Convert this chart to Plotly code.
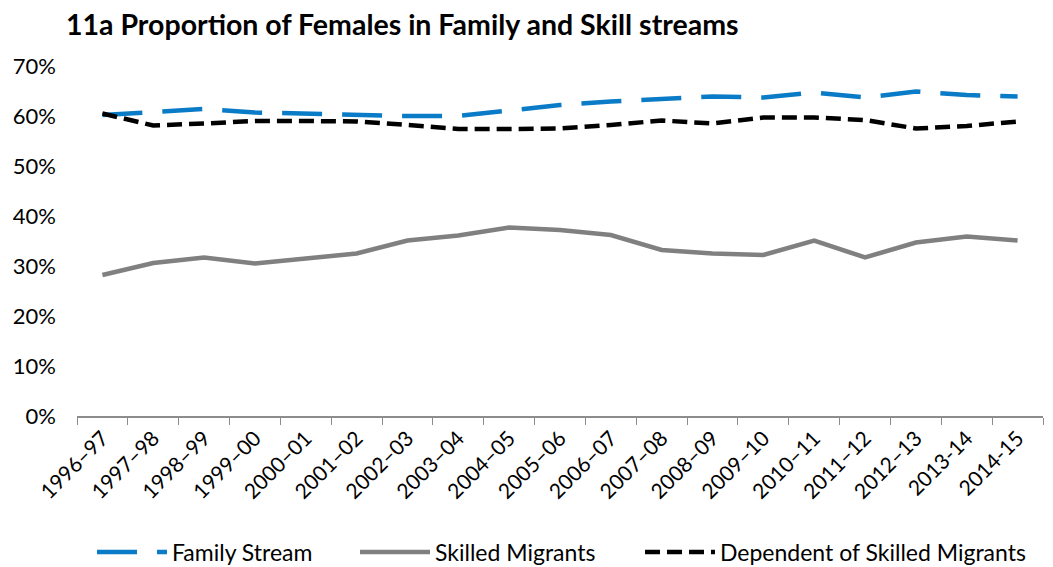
import plotly.graph_objects as go

years = ["1996–97", "1997–98", "1998–99", "1999–00", "2000–01", "2001–02", "2002–03",
         "2003–04", "2004–05", "2005–06", "2006–07", "2007–08", "2008–09", "2009–10",
         "2010–11", "2011–12", "2012–13", "2013-14", "2014-15"]

family_stream = [0.602, 0.608, 0.614, 0.607, 0.604, 0.603, 0.600, 0.600, 0.612, 0.622,
                 0.629, 0.635, 0.639, 0.637, 0.647, 0.637, 0.649, 0.642, 0.639]
skilled_migrants = [0.282, 0.306, 0.317, 0.305, 0.315, 0.325, 0.351, 0.361, 0.377, 0.372,
                    0.362, 0.332, 0.325, 0.322, 0.351, 0.317, 0.347, 0.359, 0.351]
dependent_skilled = [0.605, 0.581, 0.585, 0.590, 0.590, 0.589, 0.582, 0.574, 0.574, 0.575,
                     0.582, 0.591, 0.585, 0.597, 0.597, 0.592, 0.575, 0.580, 0.589]

font = "Lato, Calibri, Arial, sans-serif"

fig = go.Figure()
fig.add_trace(go.Scatter(x=years, y=family_stream, mode="lines", name="Family Stream",
                         legend="legend",
                         line=dict(color="#0A7BC6", width=4.5, dash="40px,20px")))
fig.add_trace(go.Scatter(x=years, y=skilled_migrants, mode="lines", name="Skilled Migrants",
                         legend="legend2",
                         line=dict(color="#808080", width=4.5)))
fig.add_trace(go.Scatter(x=years, y=dependent_skilled, mode="lines",
                         name="Dependent of Skilled Migrants", legend="legend3",
                         line=dict(color="#000000", width=4.5, dash="15px,7px")))


def legend_box(x_px):
    # one legend entry placed at a fixed pixel offset along the bottom row
    return dict(orientation="h", x=x_px / 1053, xanchor="left", xref="container",
                y=15 / 567, yref="container", yanchor="middle",
                itemwidth=70, font=dict(size=23), bgcolor="rgba(0,0,0,0)")


fig.update_layout(
    width=1053, height=567,
    margin=dict(l=77, r=10, t=66, b=151),
    paper_bgcolor="white", plot_bgcolor="white",
    font=dict(family=font, size=20, color="#000000"),
    title=dict(text="<b>11a Proportion of Females in Family and Skill streams</b>",
               x=66 / 1053, xref="container", xanchor="left",
               y=1 - 25 / 567, yref="container", yanchor="middle",
               font=dict(family=font, size=28.5, color="#000000")),
    showlegend=True,
    legend=legend_box(92),
    legend2=legend_box(355),
    legend3=legend_box(640),
)
fig.update_xaxes(
    type="category", range=[-0.5, 18.5], automargin=False,
    showline=True, linecolor="#8C8C8C", linewidth=1.5,
    ticks="outside", tickson="boundaries", ticklen=7, tickcolor="#8C8C8C",
    tickangle=-45, showgrid=False, tickfont=dict(size=21),
)
fig.update_yaxes(
    range=[0, 0.7], dtick=0.1, tickformat=".0%", automargin=False,
    showgrid=False, zeroline=False, showline=False,
    ticklabelstandoff=20, tickfont=dict(size=22),
)

fig.write_html("out.html")
